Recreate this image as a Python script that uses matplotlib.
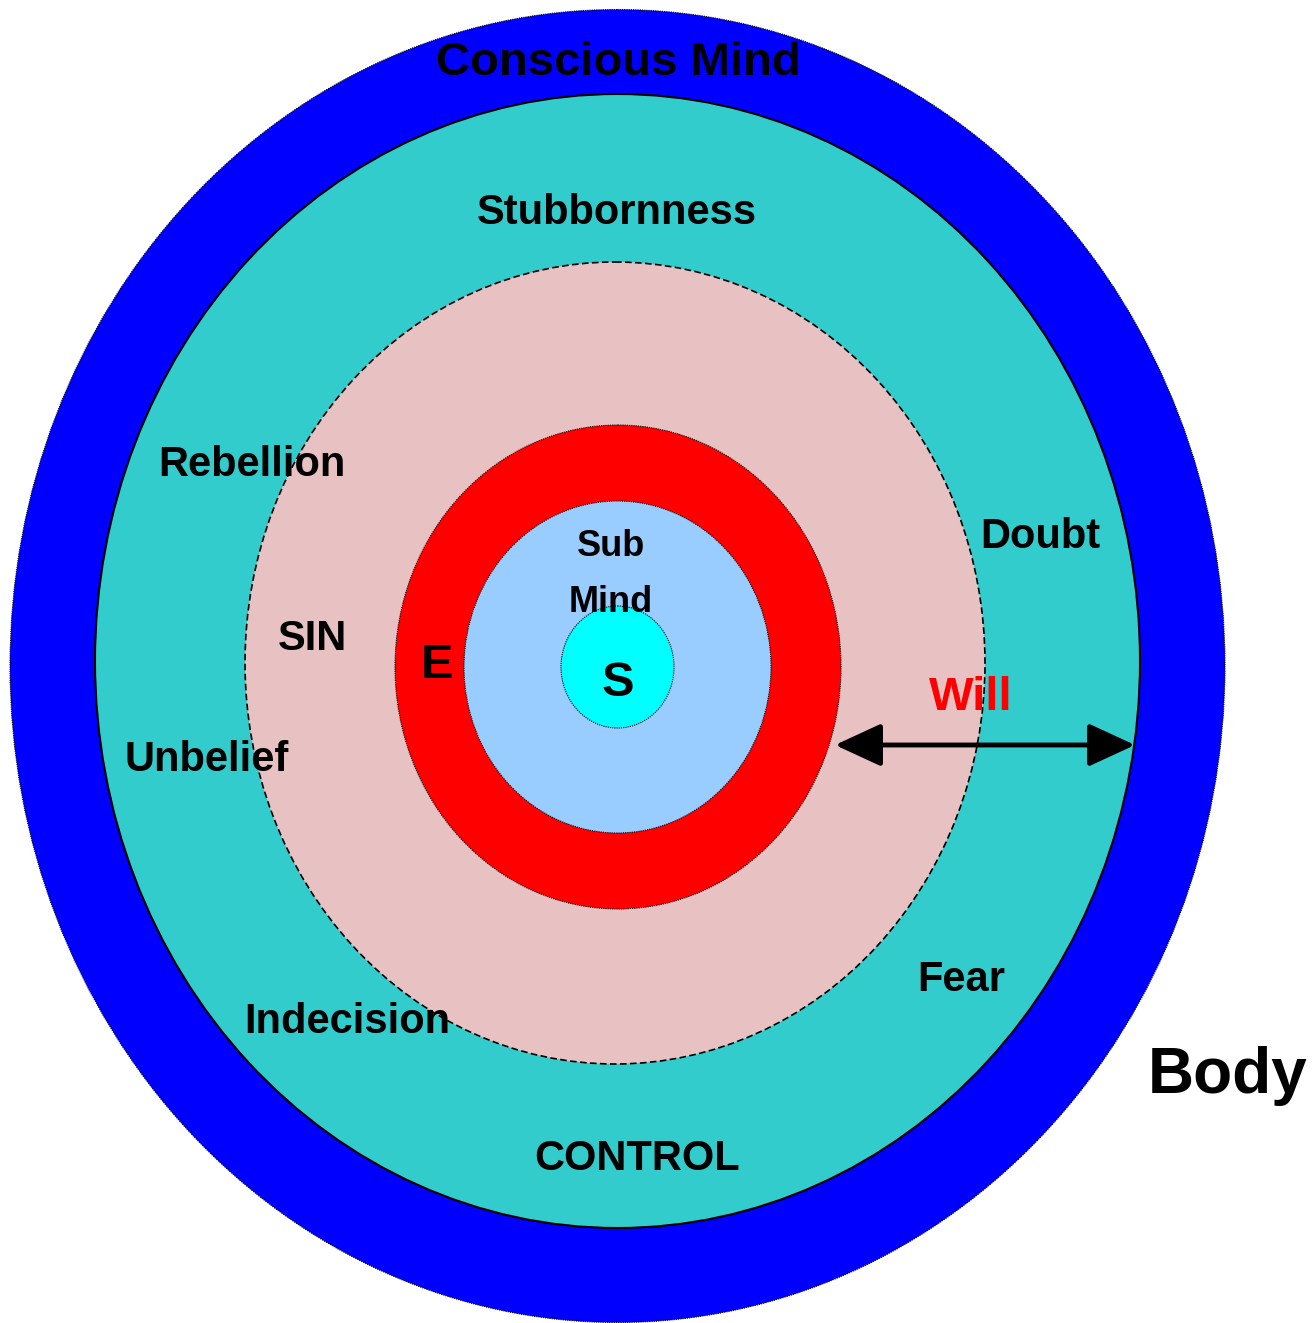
import matplotlib
matplotlib.use('Agg')
import matplotlib.pyplot as plt
from matplotlib.patches import Ellipse, FancyArrowPatch

plt.rcParams['font.family'] = ['Liberation Sans', 'DejaVu Sans']

# rings, outermost first (pixel units of the picture)
ring_names = ['Conscious Mind', 'Control', 'Sin', 'E', 'Sub Mind', 'S']
ring_cx = [617.5, 617.5, 615, 618, 617.5, 617.5]
ring_cy = [666, 661, 663, 667, 667, 667]
ring_w = [1215, 1045, 740, 446, 307, 113]
ring_h = [1313, 1134, 802, 484, 332, 122]
ring_colors = ['#0000FF', '#33CCCC', '#E8C2C2', '#FF0000', '#99CCFF', '#00FFFF']
ring_edges = [(0, (1, 1)), '-', (0, (4, 2)), (0, (1, 1)), (0, (1, 1)), (0, (1, 1))]
ring_lw = [0.8, 1.5, 1.2, 0.8, 0.8, 0.8]

# labels: text, x, y, size (pt), colour
labels = ['Conscious Mind', 'Stubbornness', 'Rebellion', 'SIN', 'Unbelief',
          'Indecision', 'CONTROL', 'Doubt', 'Fear', 'Will', 'Sub', 'Mind',
          'E', 'S', 'Body']
label_x = [618, 617, 252, 312, 207, 347, 637, 1040, 961, 971, 611, 611, 437, 618, 1228]
label_y = [63, 213, 465, 639, 760, 1022, 1159, 537, 980, 698, 547, 602, 665, 683, 1076]
label_size = [34, 30, 30, 30, 30, 30, 30, 30, 30, 34, 26, 26, 35, 35, 46]
label_color = ['black'] * 9 + ['#FF0000'] + ['black'] * 5

# arrow for "Will"
arrow_x = [835, 1135]
arrow_y = 745

fig = plt.figure(figsize=(13.14, 13.23), dpi=100)
ax = fig.add_axes([0, 0, 1, 1])
ax.set_xlim(0, 1314)
ax.set_ylim(1323, 0)
ax.set_aspect('equal')
ax.axis('off')

for i in range(len(ring_names)):
    e = Ellipse((ring_cx[i], ring_cy[i]), ring_w[i], ring_h[i],
                facecolor=ring_colors[i], edgecolor='black',
                linestyle=ring_edges[i], linewidth=ring_lw[i], zorder=i + 1)
    ax.add_patch(e)

for t, x, y, s, c in zip(labels, label_x, label_y, label_size, label_color):
    ax.text(x, y, t, fontsize=s, fontweight='bold', color=c,
            ha='center', va='center', zorder=20)

arr = FancyArrowPatch((arrow_x[0], arrow_y), (arrow_x[1], arrow_y),
                      arrowstyle='<|-|>,head_length=1.3,head_width=0.6',
                      mutation_scale=22, color='black', linewidth=3.5,
                      shrinkA=0, shrinkB=0, zorder=15)
ax.add_patch(arr)

fig.savefig('out.png', dpi=100)
